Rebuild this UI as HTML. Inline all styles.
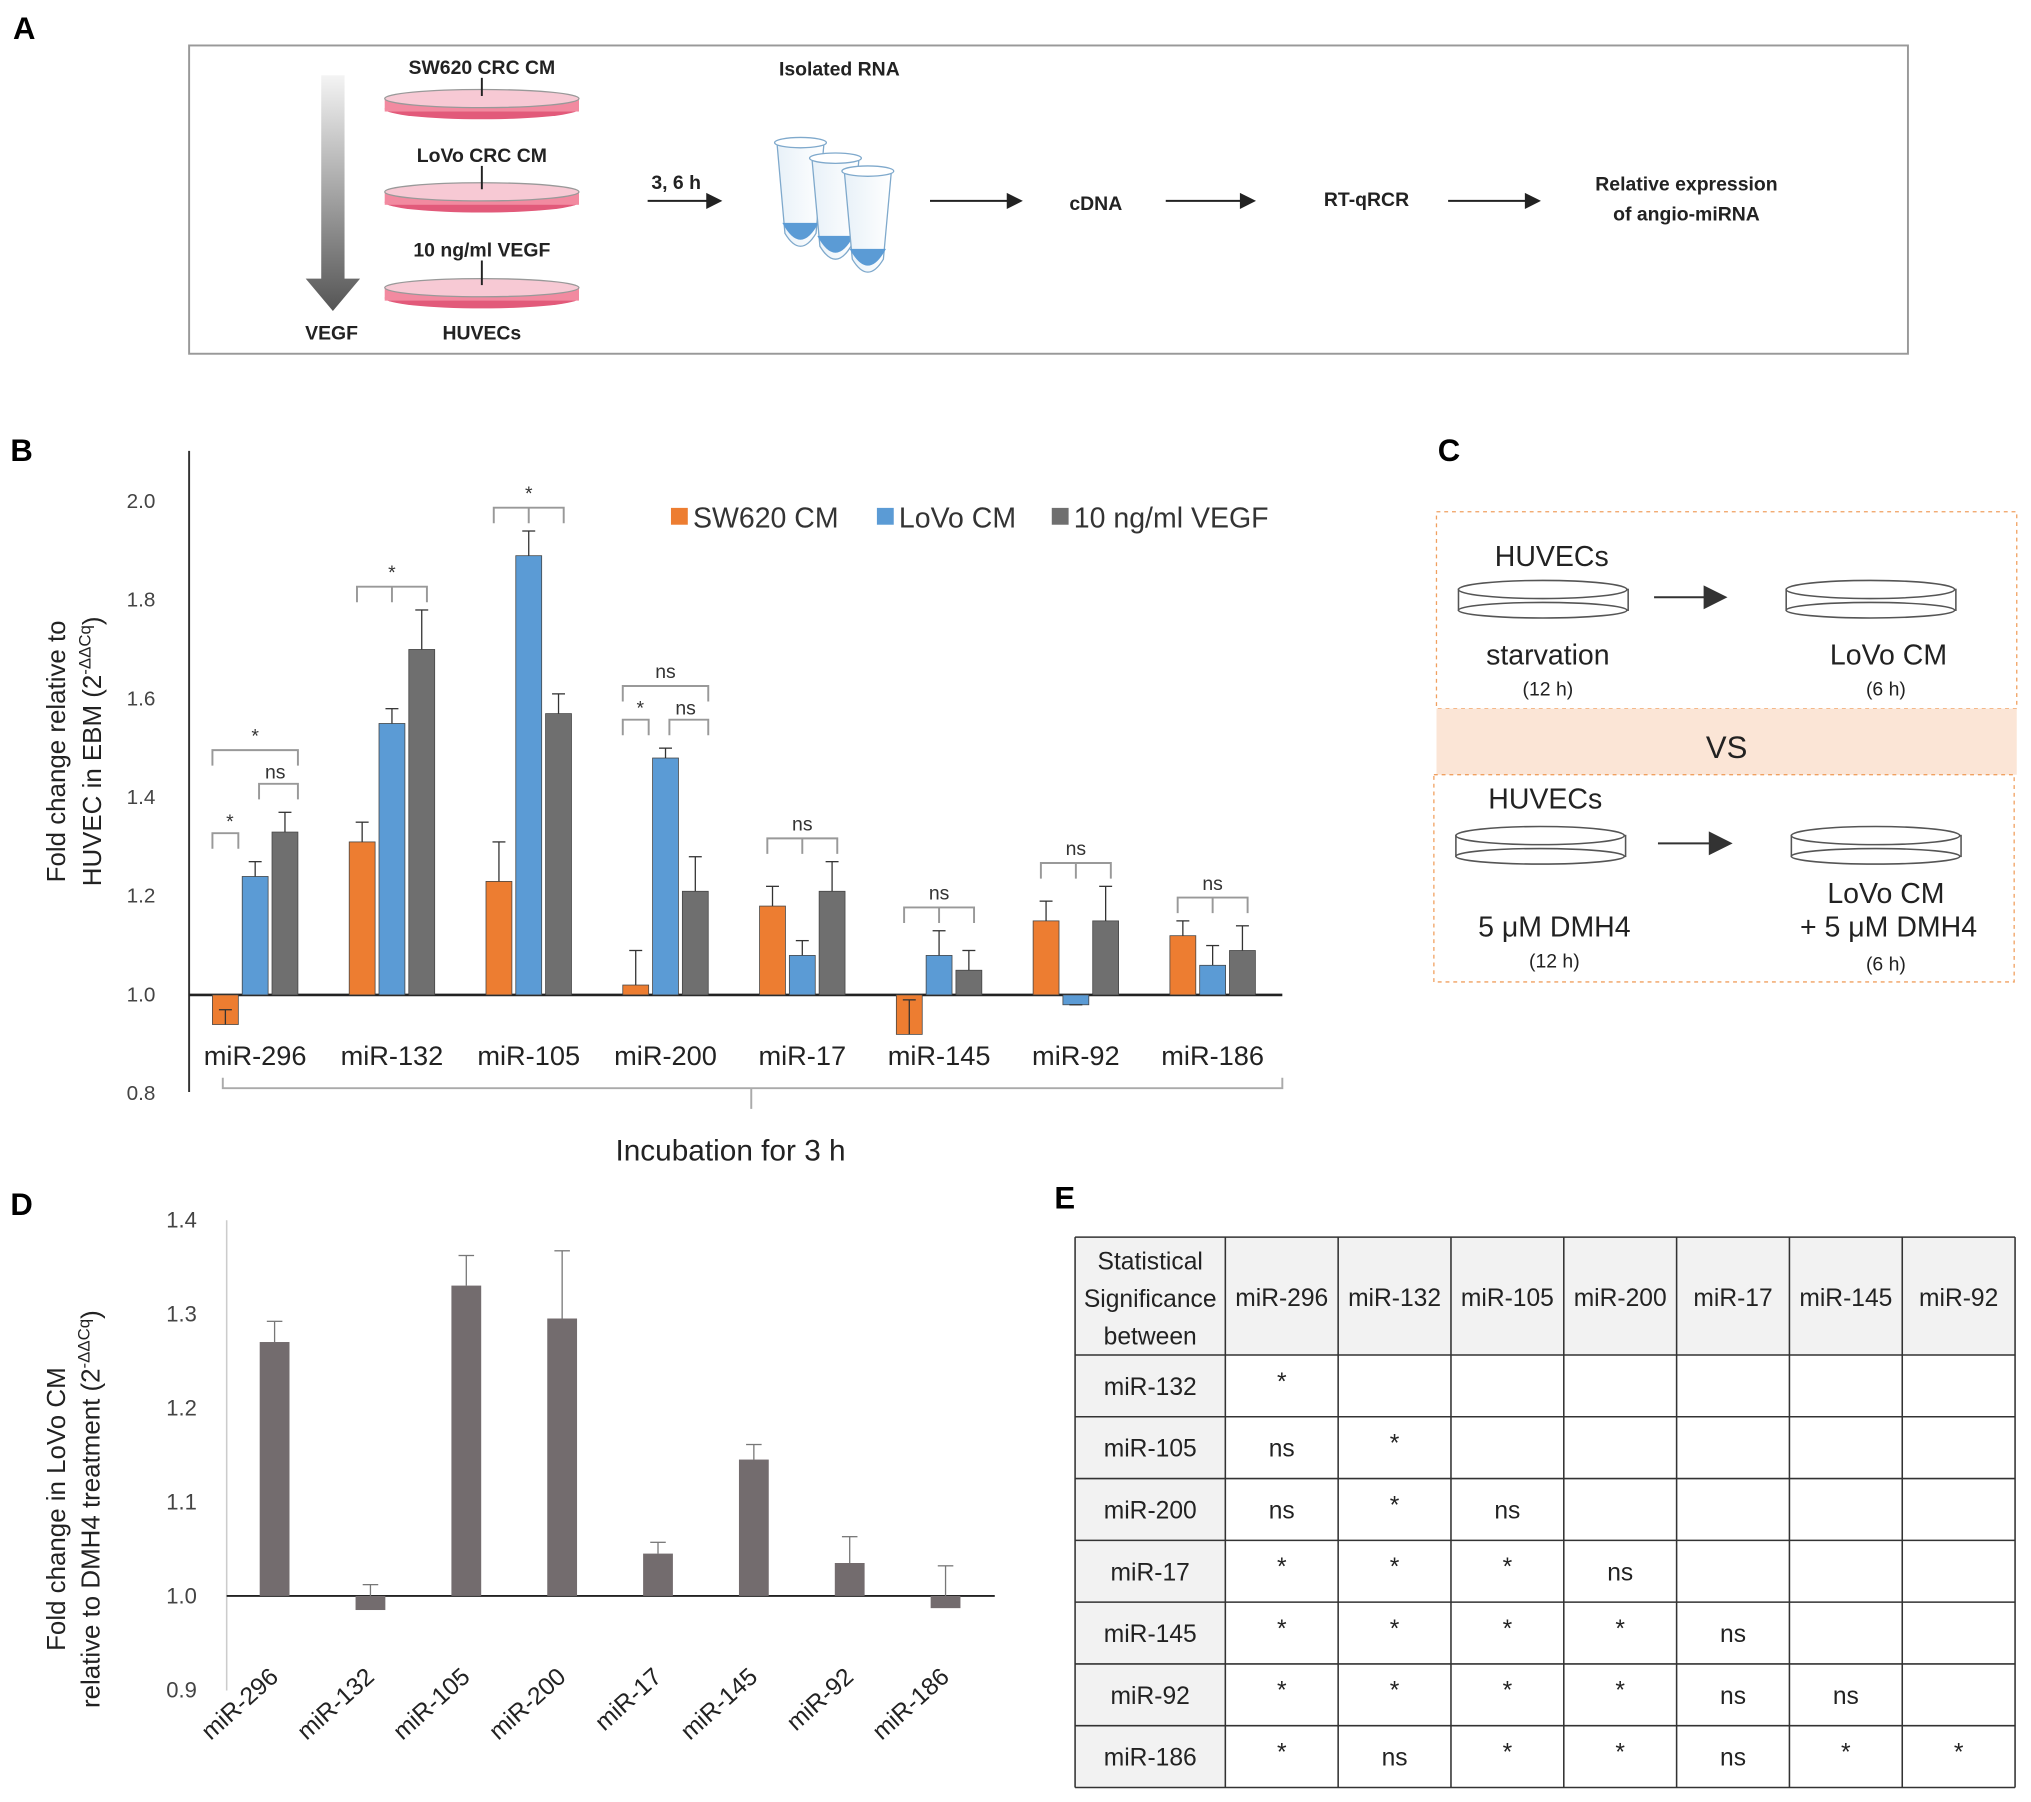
<!DOCTYPE html>
<html><head><meta charset="utf-8"><style>
body{margin:0;background:#fff}
svg{display:block;font-family:"Liberation Sans",Arial,sans-serif}
</style></head><body>
<svg width="2031" height="1802" viewBox="0 0 1568 1391" xmlns="http://www.w3.org/2000/svg">
<defs>
<linearGradient id="ga" x1="0" y1="0" x2="0" y2="1"><stop offset="0" stop-color="#f4f4f4"/><stop offset="1" stop-color="#555"/></linearGradient>
<linearGradient id="tube" x1="0" y1="0" x2="1" y2="0"><stop offset="0" stop-color="#e8f1f8"/><stop offset="1" stop-color="#fff"/></linearGradient>
</defs>
<g>
<text x="10" y="30" font-size="24" font-weight="bold">A</text>
<rect x="146" y="35" width="1327" height="238" fill="#fff" stroke="#999" stroke-width="1.5"/>
<polygon points="248,58 266,58 266,215 278,215 257,240 236,215 248,215" fill="url(#ga)"/>
<text x="256" y="262" font-size="15" font-weight="bold" text-anchor="middle" fill="#222">VEGF</text>
<g>
<g><ellipse cx="372" cy="84" rx="75" ry="8" fill="#e25a7a"/><rect x="297" y="76" width="150" height="10" fill="#f28aa0"/><ellipse cx="372" cy="76" rx="75" ry="7" fill="#f7c9d4" stroke="#999"/></g>
<g><ellipse cx="372" cy="156" rx="75" ry="8" fill="#e25a7a"/><rect x="297" y="148" width="150" height="10" fill="#f28aa0"/><ellipse cx="372" cy="148" rx="75" ry="7" fill="#f7c9d4" stroke="#999"/></g>
<g><ellipse cx="372" cy="230" rx="75" ry="8" fill="#e25a7a"/><rect x="297" y="222" width="150" height="10" fill="#f28aa0"/><ellipse cx="372" cy="222" rx="75" ry="7" fill="#f7c9d4" stroke="#999"/></g>
</g>
<g font-size="15" font-weight="bold" text-anchor="middle" fill="#222">
<text x="372" y="57">SW620 CRC CM</text>
<text x="372" y="125">LoVo CRC CM</text>
<text x="372" y="198">10 ng/ml VEGF</text>
<text x="372" y="262">HUVECs</text>
<text x="648" y="58">Isolated RNA</text>
<text x="522" y="146">3, 6 h</text>
<text x="846" y="162">cDNA</text>
<text x="1055" y="159">RT-qRCR</text>
<text x="1302" y="147">Relative expression</text>
<text x="1302" y="170">of angio-miRNA</text>
</g>
<g stroke="#222" stroke-width="1.5" fill="#222">
<line x1="372" y1="60" x2="372" y2="74"/><line x1="372" y1="128" x2="372" y2="146"/><line x1="372" y1="201" x2="372" y2="220"/>
<line x1="500" y1="155" x2="548" y2="155"/><polygon points="556,155 546,150 546,160"/>
<line x1="718" y1="155" x2="780" y2="155"/><polygon points="788,155 778,150 778,160"/>
<line x1="900" y1="155" x2="960" y2="155"/><polygon points="968,155 958,150 958,160"/>
<line x1="1118" y1="155" x2="1180" y2="155"/><polygon points="1188,155 1178,150 1178,160"/>
</g>
<g>
<path d="M600,112 L636,112 L630,180 Q618,200 606,180 Z" fill="url(#tube)" stroke="#7fa9cc"/><path d="M604,172 L632,172 Q618,198 604,172Z" fill="#5b9bd5"/><ellipse cx="618" cy="110" rx="20" ry="4" fill="#fff" stroke="#7fa9cc"/>
<path d="M627,124 L663,124 L657,190 Q645,210 633,190 Z" fill="url(#tube)" stroke="#7fa9cc"/><path d="M631,182 L659,182 Q645,208 631,182Z" fill="#5b9bd5"/><ellipse cx="645" cy="122" rx="20" ry="4" fill="#fff" stroke="#7fa9cc"/>
<path d="M652,134 L688,134 L682,200 Q670,220 658,200 Z" fill="url(#tube)" stroke="#7fa9cc"/><path d="M656,192 L684,192 Q670,218 656,192Z" fill="#5b9bd5"/><ellipse cx="670" cy="132" rx="20" ry="4" fill="#fff" stroke="#7fa9cc"/>
</g>
</g>
<g>
<text x="8" y="356" font-size="24" font-weight="bold">B</text>
<g id="chartB"></g>
</g>
<g>
<text x="1110" y="356" font-size="24" font-weight="bold">C</text>
<rect x="1109" y="395" width="448" height="152" fill="none" stroke="#f0a060" stroke-dasharray="3,3"/>
<rect x="1109" y="547" width="448" height="51" fill="#fbe5d6"/>
<text x="1333" y="585" font-size="24" text-anchor="middle" fill="#222">VS</text>
<rect x="1107" y="598" width="448" height="160" fill="none" stroke="#f0a060" stroke-dasharray="3,3"/>
<g fill="#fff" stroke="#555" stroke-width="1.2">
<rect x="1126" y="455" width="131" height="16"/><ellipse cx="1191" cy="455" rx="65" ry="7"/><ellipse cx="1191" cy="471" rx="65" ry="6"/>
<rect x="1379" y="455" width="131" height="16"/><ellipse cx="1444" cy="455" rx="65" ry="7"/><ellipse cx="1444" cy="471" rx="65" ry="6"/>
<rect x="1124" y="645" width="131" height="16"/><ellipse cx="1189" cy="645" rx="65" ry="7"/><ellipse cx="1189" cy="661" rx="65" ry="6"/>
<rect x="1383" y="645" width="131" height="16"/><ellipse cx="1448" cy="645" rx="65" ry="7"/><ellipse cx="1448" cy="661" rx="65" ry="6"/>
</g>
<g stroke="#333" stroke-width="1.5" fill="#333"><line x1="1277" y1="461" x2="1318" y2="461"/><polygon points="1332,461 1316,453 1316,469"/><line x1="1280" y1="651" x2="1322" y2="651"/><polygon points="1336,651 1320,643 1320,659"/></g>
<g font-size="22" text-anchor="middle" fill="#222">
<text x="1198" y="437">HUVECs</text><text x="1195" y="513">starvation</text><text x="1458" y="513">LoVo CM</text>
<text x="1193" y="624">HUVECs</text><text x="1200" y="723">5 μM DMH4</text><text x="1456" y="697">LoVo CM</text><text x="1458" y="723">+ 5 μM DMH4</text>
</g>
<g font-size="15" text-anchor="middle" fill="#222"><text x="1195" y="537">(12 h)</text><text x="1456" y="537">(6 h)</text><text x="1200" y="747">(12 h)</text><text x="1456" y="749">(6 h)</text></g>
</g>
<g>
<text x="8" y="938" font-size="24" font-weight="bold">D</text>
<g id="chartD"></g>
</g>
<g>
<text x="814" y="933" font-size="24" font-weight="bold">E</text>
<g id="tableE"></g>
</g>
</svg>
<script>
const NS="http://www.w3.org/2000/svg";
function mk(p,t,a,txt){const e=document.createElementNS(NS,t);for(const k in a)e.setAttribute(k,a[k]);if(txt!==undefined)e.textContent=txt;p.appendChild(e);return e;}

const bCats=["miR-296","miR-132","miR-105","miR-200","miR-17","miR-145","miR-92","miR-186"];
const bSW620=[0.94,1.31,1.23,1.02,1.18,0.92,1.15,1.12];
const bLoVo=[1.24,1.55,1.89,1.48,1.08,1.08,0.98,1.06];
const bVEGF=[1.33,1.70,1.57,1.21,1.21,1.05,1.15,1.09];
const bErrSW=[0.03,0.04,0.08,0.07,0.04,0.07,0.04,0.03];
const bErrLo=[0.03,0.03,0.05,0.02,0.03,0.05,0.0,0.04];
const bErrVe=[0.04,0.08,0.04,0.07,0.06,0.04,0.07,0.05];
const bTicks=[0.8,1.0,1.2,1.4,1.6,1.8,2.0];
const bSig=[["*","ns","*"],["*","",""],["*","",""],["*","ns","ns"],["ns","",""],["ns","",""],["ns","",""],["ns","",""]];

const dCats=["miR-296","miR-132","miR-105","miR-200","miR-17","miR-145","miR-92","miR-186"];
const dVals=[1.27,0.985,1.33,1.295,1.045,1.145,1.035,0.987];
const dErr=[0.022,0.012,0.032,0.072,0.012,0.016,0.028,0.032];
const dTicks=[0.9,1.0,1.1,1.2,1.3,1.4];

const eCols=["miR-296","miR-132","miR-105","miR-200","miR-17","miR-145","miR-92"];
const eRows=["miR-132","miR-105","miR-200","miR-17","miR-145","miR-92","miR-186"];
const eVals=[["*"],["ns","*"],["ns","*","ns"],["*","*","*","ns"],["*","*","*","*","ns"],["*","*","*","*","ns","ns"],["*","ns","*","*","ns","*","*"]];

(function(){
const g=document.getElementById("chartB");
const y=v=>768-(v-1.0)*381;
const xc=i=>197+i*105.6;
mk(g,"line",{x1:146,y1:348,x2:146,y2:843,stroke:"#333","stroke-width":1.5,});
bTicks.forEach(t=>{const e=mk(g,"text",{x:120,y:y(t)+5,"font-size":16,"text-anchor":"end",fill:"#444"},t.toFixed(1));});
mk(g,"line",{x1:146,y1:768,x2:990,y2:768,stroke:"#222","stroke-width":2,});
const t=mk(g,"text",{x:50,y:580,"font-size":20,"text-anchor":"middle",transform:"rotate(-90 50 580)",fill:"#222"});

t.innerHTML='<tspan x="50" dy="0">Fold change relative to</tspan><tspan x="50" dy="28">HUVEC in EBM (2</tspan><tspan font-size="13" dy="-8">-ΔΔCq</tspan><tspan dy="8">)</tspan>';
const series=[[bSW620,bErrSW,"#ed7d31",-23,"sw620"],[bLoVo,bErrLo,"#5b9bd5",0,"lovo"],[bVEGF,bErrVe,"#6f6f6f",23,"vegf"]];
bCats.forEach((c,i)=>{
 const tops=[];
 series.forEach(s=>{
  const v=s[0][i],e=s[1][i],cx=xc(i)+s[3];
  const y0=y(1),y1=y(v);
  const r=mk(g,"rect",{x:cx-10,y:Math.min(y0,y1),width:20,height:Math.abs(y1-y0),fill:s[2],stroke:"#444","stroke-width":0.6});
  
  const yy=y(v+e);
  mk(g,"line",{x1:cx,y1:y1,x2:cx,y2:yy,stroke:"#333"});mk(g,"line",{x1:cx-5,y1:yy,x2:cx+5,y2:yy,stroke:"#333"});
  tops.push(Math.min(y(Math.max(v,1)+e),y(1)));
 });
 const lab=mk(g,"text",{x:xc(i),y:822,"font-size":21,"text-anchor":"middle",fill:"#222"},c);
 
 const sig=bSig[i];const top=Math.min(...tops);
 const bc="#999";
 if(sig[1]===""){
  const by=top-18,x0=xc(i)-27,x1=xc(i)+27;
  mk(g,"path",{d:`M${x0},${by+12} L${x0},${by} L${x1},${by} L${x1},${by+12} M${xc(i)},${by} L${xc(i)},${by+12}`,fill:"none",stroke:bc,"stroke-width":1.5});
  const s=mk(g,"text",{x:xc(i),y:by-6,"font-size":15,"text-anchor":"middle",fill:"#333"},sig[0]);
  
 } else {
  const b1=Math.min(tops[0],tops[1])-10, b2=Math.min(tops[1],tops[2])-10, b3=Math.min(b1,b2)-38;
  const xa=xc(i)-23,xb=xc(i),xd=xc(i)+23;
  mk(g,"path",{d:`M${xa-10},${b1} L${xa-10},${b1-12} L${xb-13},${b1-12} L${xb-13},${b1}`,fill:"none",stroke:bc,"stroke-width":1.5});
  mk(g,"path",{d:`M${xb+3},${b2} L${xb+3},${b2-12} L${xd+10},${b2-12} L${xd+10},${b2}`,fill:"none",stroke:bc,"stroke-width":1.5});
  mk(g,"path",{d:`M${xa-10},${b3+12} L${xa-10},${b3} L${xd+10},${b3} L${xd+10},${b3+12}`,fill:"none",stroke:bc,"stroke-width":1.5});
  [[ (xa+xb)/2-8,b1-16,sig[0]],[(xb+xd)/2+4,b2-16,sig[1]],[xb,b3-6,sig[2]]].forEach(p=>{const s=mk(g,"text",{x:p[0],y:p[1],"font-size":15,"text-anchor":"middle",fill:"#333"},p[2]);});
 }
});
mk(g,"path",{d:"M172,832 L172,840 L990,840 L990,832 M580,840 L580,856",fill:"none",stroke:"#aaa","stroke-width":1.5});
const xt=mk(g,"text",{x:564,y:896,"font-size":23,"text-anchor":"middle",fill:"#222"},"Incubation for 3 h");

const legend=[["#ed7d31","SW620 CM",518],["#5b9bd5","LoVo CM",677],["#6f6f6f","10 ng/ml  VEGF",812]];
legend.forEach(l=>{const r=mk(g,"rect",{x:l[2],y:392,width:13,height:13,fill:l[0]});
 const tx=mk(g,"text",{x:l[2]+17,y:407,"font-size":22,fill:"#333"},l[1]);});
})();

(function(){
const g=document.getElementById("chartD");
const y=v=>1232-(v-1.0)*726;
const xc=i=>212+i*74;
mk(g,"line",{x1:175,y1:942,x2:175,y2:1305,stroke:"#ccc","stroke-width":1.2,});
dTicks.forEach(t=>{const e=mk(g,"text",{x:152,y:y(t)+6,"font-size":17,"text-anchor":"end",fill:"#444"},t.toFixed(1));});
mk(g,"line",{x1:175,y1:1232,x2:768,y2:1232,stroke:"#222","stroke-width":1.5,});
dCats.forEach((c,i)=>{
 const v=dVals[i],cx=xc(i),y0=y(1),y1=y(v);
 const r=mk(g,"rect",{x:cx-11.5,y:Math.min(y0,y1),width:23,height:Math.abs(y1-y0),fill:"#736c6e"});
 
 const ye=y(Math.max(v,1)+dErr[i]);
 const ys=v>=1?y1:y0;
 mk(g,"line",{x1:cx,y1:ys,x2:cx,y2:ye,stroke:"#777"});mk(g,"line",{x1:cx-6,y1:ye,x2:cx+6,y2:ye,stroke:"#777"});
 const lx=cx+4,ly=1296;
 const lab=mk(g,"text",{x:lx,y:ly,"font-size":19,"text-anchor":"end",fill:"#222",transform:`rotate(-42 ${lx} ${ly})`},c);
 
});
const t=mk(g,"text",{x:50,y:1165,"font-size":20,"text-anchor":"middle",transform:"rotate(-90 50 1165)",fill:"#222"});

t.innerHTML='<tspan x="50" dy="0">Fold change in LoVo CM</tspan><tspan x="50" dy="27">relative to DMH4 treatment (2</tspan><tspan font-size="13" dy="-8">-ΔΔCq</tspan><tspan dy="8">)</tspan>';
})();

(function(){
const g=document.getElementById("tableE");
const X0=830,C0=116,CW=87.1,Y0=955,H0=91,RH=47.7;
const W=C0+CW*7,H=H0+RH*7;
mk(g,"rect",{x:X0,y:Y0,width:W,height:H0,fill:"#f2f2f2"});
mk(g,"rect",{x:X0,y:Y0,width:C0,height:H,fill:"#f2f2f2"});
for(let j=0;j<=7;j++){const x=j===0?X0:X0+C0+CW*(j-1);mk(g,"line",{x1:x,y1:Y0,x2:x,y2:Y0+H,stroke:"#333","stroke-width":1.2});}
mk(g,"line",{x1:X0+W,y1:Y0,x2:X0+W,y2:Y0+H,stroke:"#333","stroke-width":1.2});
mk(g,"line",{x1:X0,y1:Y0,x2:X0+W,y2:Y0,stroke:"#333","stroke-width":1.2});
for(let r=0;r<=7;r++){const yy=Y0+H0+RH*r;mk(g,"line",{x1:X0,y1:yy,x2:X0+W,y2:yy,stroke:"#333","stroke-width":1.2});}
const hd=mk(g,"text",{x:X0+C0/2,y:Y0+25,"font-size":19,"text-anchor":"middle",fill:"#222"});

hd.innerHTML='<tspan x="'+(X0+C0/2)+'" dy="0">Statistical</tspan><tspan x="'+(X0+C0/2)+'" dy="29">Significance</tspan><tspan x="'+(X0+C0/2)+'" dy="29">between</tspan>';
eCols.forEach((c,j)=>{const e=mk(g,"text",{x:X0+C0+CW*j+CW/2,y:Y0+53,"font-size":19,"text-anchor":"middle",fill:"#222"},c);});
eRows.forEach((r,i)=>{const cy=Y0+H0+RH*i+RH/2+7;
 const e=mk(g,"text",{x:X0+C0/2,y:cy,"font-size":19,"text-anchor":"middle",fill:"#222"},r);
 eVals[i].forEach((v,j)=>{const s=mk(g,"text",{x:X0+C0+CW*j+CW/2,y:v==="*"?cy-4:cy,"font-size":19,"text-anchor":"middle",fill:"#222"},v);});
});
})();
</script>
</body></html>
